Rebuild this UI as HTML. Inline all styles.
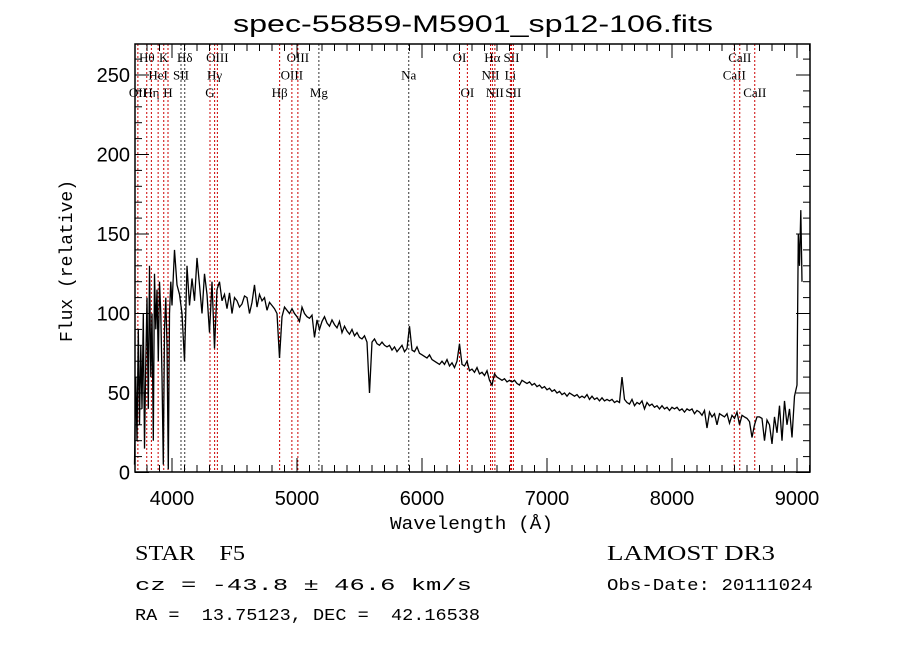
<!DOCTYPE html>
<html><head><meta charset="utf-8"><style>
body{margin:0;background:#fff;}
svg{display:block;font-family:"Liberation Sans",sans-serif;}
text{white-space:pre;}
.mono{font-family:"Liberation Mono",monospace;}
.serif{font-family:"Liberation Serif",serif;}
</style></head><body>
<svg id="chart" width="900" height="649" viewBox="0 0 900 649" xml:space="preserve">
<text x="233" y="32" font-size="24" textLength="480" lengthAdjust="spacingAndGlyphs">spec-55859-M5901_sp12-106.fits</text>
<g id="lines"></g>
<g id="axes"></g>
<polyline id="spec" fill="none" stroke="#000" stroke-width="1.3"/>
<text x="390" y="529" font-size="18" class="mono" textLength="163" lengthAdjust="spacingAndGlyphs">Wavelength (Å)</text>
<text transform="translate(72,342) rotate(-90)" font-size="18" class="mono" textLength="162" lengthAdjust="spacingAndGlyphs">Flux (relative)</text>
<text x="135" y="560" font-size="21" class="serif" textLength="110" lengthAdjust="spacingAndGlyphs">STAR    F5</text>
<text x="607" y="560" font-size="21" class="serif" textLength="168" lengthAdjust="spacingAndGlyphs">LAMOST DR3</text>
<text x="135" y="590" font-size="17" class="mono" textLength="337" lengthAdjust="spacingAndGlyphs">cz = -43.8 ± 46.6 km/s</text>
<text x="607" y="590" font-size="17" class="mono" textLength="206" lengthAdjust="spacingAndGlyphs">Obs-Date: 20111024</text>
<text x="135" y="620" font-size="17" class="mono" textLength="345" lengthAdjust="spacingAndGlyphs">RA =  13.75123, DEC =  42.16538</text>
</svg>
<script>
const wl=[3700,3710,3720,3730,3740,3750,3760,3770,3780,3790,3800,3810,3820,3830,3840,3850,3860,3870,3880,3890,3900,3910,3920,3930,3940,3950,3960,3970,3980,3990,4000,
4020,4040,4060,4080,4100,4120,4140,4160,4180,4200,4220,4240,4260,4280,4300,4320,4340,4360,4380,4400,4420,4440,4460,4480,4500,
4520,4540,4560,4580,4600,4620,4640,4660,4680,4700,4720,4740,4760,4780,4800,4820,4840,4860,4880,4900,4920,4940,4960,4980,5000,
5020,5040,5060,5080,5100,5120,5140,5160,5180,5200,5220,5240,5260,5280,5300,5320,5340,5360,5380,5400,5420,5440,5460,5480,5500,
5520,5540,5560,5580,5600,5620,5640,5660,5680,5700,5720,5740,5760,5780,5800,5820,5840,5860,5880,5900,5920,5940,5960,5980,6000,
6020,6040,6060,6080,6100,6120,6140,6160,6180,6200,6220,6240,6260,6280,6300,6320,6340,6360,6380,6400,6420,6440,6460,6480,6500,
6520,6540,6560,6580,6600,6620,6640,6660,6680,6700,6720,6740,6760,6780,6800,6820,6840,6860,6880,6900,6920,6940,6960,6980,7000,
7020,7040,7060,7080,7100,7120,7140,7160,7180,7200,7220,7240,7260,7280,7300,7320,7340,7360,7380,7400,7420,7440,7460,7480,7500,
7520,7540,7560,7580,7600,7620,7640,7660,7680,7700,7720,7740,7760,7780,7800,7820,7840,7860,7880,7900,7920,7940,7960,7980,8000,
8020,8040,8060,8080,8100,8120,8140,8160,8180,8200,8220,8240,8260,8280,8300,8320,8340,8360,8380,8400,8420,8440,8460,8480,8500,
8520,8540,8560,8580,8600,8620,8640,8660,8680,8700,8720,8740,8760,8780,8800,8820,8840,8860,8880,8900,8920,8940,8960,8980,9000,
9010,9020,9030,9040];
const flux=[5,60,20,90,30,80,40,100,15,70,110,40,130,60,100,20,125,90,115,70,120,100,60,5,90,110,80,2,100,120,105,
140,118,112,100,70,130,105,122,108,135,118,100,125,112,88,120,78,115,120,108,112,103,113,100,110,
108,104,106,111,110,100,107,118,104,112,108,110,102,107,105,103,100,72,98,104,102,100,103,100,98,
95,104,100,98,97,99,85,96,90,95,98,94,92,96,93,91,95,88,92,89,87,90,86,88,85,
84,86,82,50,82,84,81,80,82,80,79,80,77,79,76,78,80,76,78,92,77,76,79,75,74,
73,72,74,71,70,69,68,70,68,71,67,69,66,70,81,68,67,70,64,65,63,66,62,63,61,
64,58,55,62,60,59,58,59,57,58,57,58,56,55,58,57,56,57,55,56,54,55,53,54,52,
53,51,52,50,51,49,50,48,50,49,48,49,47,48,47,49,46,48,46,47,45,47,45,46,45,
46,44,45,44,60,46,44,43,46,42,44,43,45,40,44,42,43,41,42,40,42,40,41,39,41,
40,41,39,40,38,40,39,40,37,39,38,36,39,28,38,35,37,30,37,36,35,37,31,36,34,
38,30,36,35,34,32,22,30,35,35,34,20,33,30,18,35,25,42,20,45,30,40,22,48,55,
150,130,165,120];
const xTicks=[4000,5000,6000,7000,8000,9000];
const yTicks=[0,50,100,150,200,250];
const lineWl=[3727,3798,3835,3889,3934,3968,4072,4102,4304,4341,4363,4861,4959,5007,5175,5894,6300,6363,6548,6563,6583,6707,6716,6731,8498,8542,8662];
const lineLbl=["OII","Hθ","Hη","HeI","K","H","SII","Hδ","G","Hγ","OIII","Hβ","OIII","OIII","Mg","Na","OI","OI","NII","Hα","NII","Li","SII","SII","CaII","CaII","CaII"];
const lineRow=[2,0,2,1,0,2,1,0,2,1,0,2,1,0,2,1,0,2,1,0,2,1,0,2,1,0,2];

const L=135,R=810,T=44,B=472;
const X=w=>172+(w-4000)*0.125;
const Y=v=>472.5-v*1.59;
const NS="http://www.w3.org/2000/svg";
function mk(tag,attrs,parent){const e=document.createElementNS(NS,tag);for(const k in attrs)e.setAttribute(k,attrs[k]);parent.appendChild(e);return e;}
const ax=document.getElementById('axes');
const frame=mk('rect',{x:L,y:T,width:R-L,height:B-T,fill:'none',stroke:'#000','stroke-width':1.5},ax);


for(let w=3800;w<=9100;w+=100){
  const x=X(w),len=(w%1000===0)?14:7;
  const t1=mk('line',{x1:x,x2:x,y1:B,y2:B-len,stroke:'#000','stroke-width':1},ax);
  
  
  const t2=mk('line',{x1:x,x2:x,y1:T,y2:T+len,stroke:'#000','stroke-width':1},ax);
  
  
}
xTicks.forEach(w=>{
  const t=mk('text',{x:X(w),y:505,'text-anchor':'middle','font-size':20},ax);t.textContent=w;
  
  
});
for(let v=0;v<=260;v+=10){
  const y=Y(v);if(y<T)continue;const len=(v%50===0)?14:7;
  const t1=mk('line',{x1:L,x2:L+len,y1:y,y2:y,stroke:'#000','stroke-width':1},ax);
  
  
  const t2=mk('line',{x1:R,x2:R-len,y1:y,y2:y,stroke:'#000','stroke-width':1},ax);
  
  
}
yTicks.forEach(v=>{
  const t=mk('text',{x:130,y:Y(v)+7,'text-anchor':'end','font-size':20},ax);t.textContent=v;
  
  
});
const lg=document.getElementById('lines');
lineWl.forEach((w,i)=>{
  const x=X(w);
  const isBlack=(lineLbl[i]==="Na"||lineLbl[i]==="Mg"||w===4072||w===4102);
  const l=mk('line',{x1:x,x2:x,y1:T,y2:B,stroke:isBlack?'#333':'#c00','stroke-width':1,'stroke-dasharray':'2,2'},lg);
  
  
  const t=mk('text',{x:x,y:62+lineRow[i]*17.5,'text-anchor':'middle','font-size':13,'font-family':'Liberation Serif, serif'},lg);
  t.textContent=lineLbl[i];
  
  
});
document.getElementById('spec').setAttribute('points',wl.map((w,i)=>X(w).toFixed(1)+','+Math.max(T,Y(flux[i])).toFixed(1)).join(' '));
</script>
</body></html>
